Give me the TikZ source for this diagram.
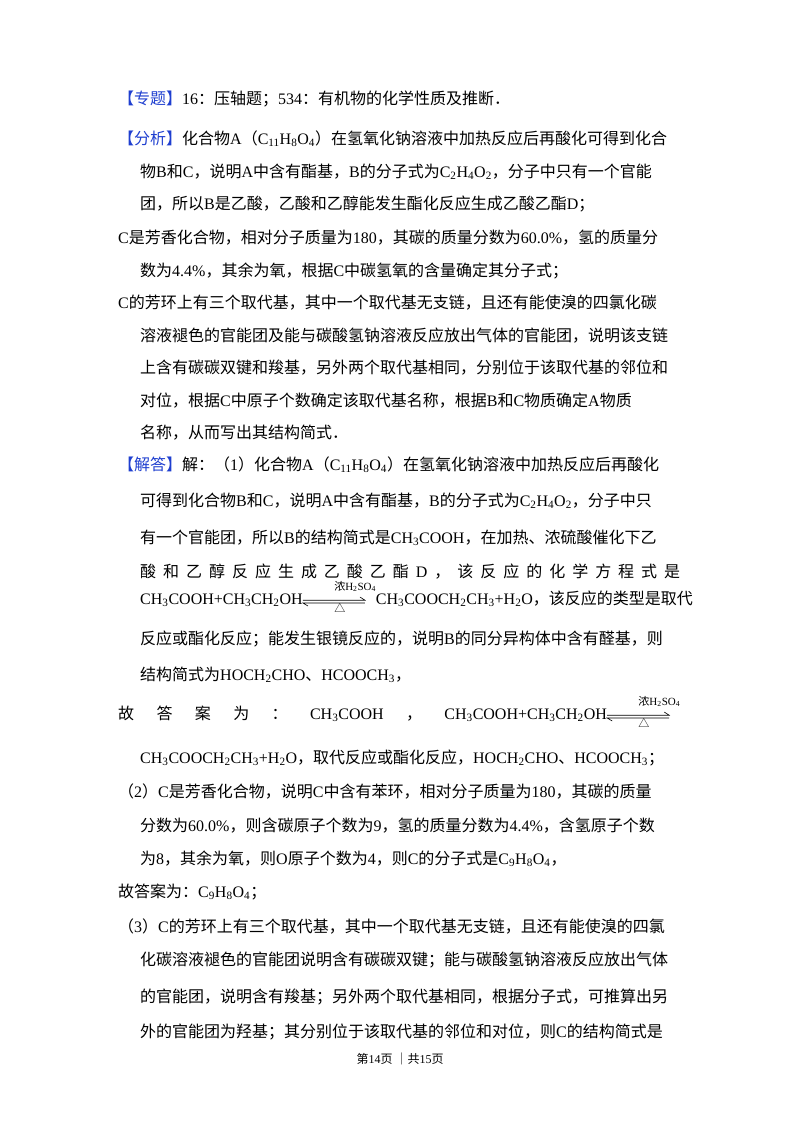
\documentclass[tikz,border=0pt]{standalone}
\usepackage{fontspec}
\setmainfont{Liberation Serif}
\newfontfamily\cjkf{Noto Sans CJK SC}
\newcommand\cjk{\cjkf}
\newcommand\lat{\rmfamily}
\XeTeXinterchartokenstate=1
\newXeTeXintercharclass\cjkclass
\newcount\cc
\cc="3000 \loop\ifnum\cc<"3040 \XeTeXcharclass\cc=\cjkclass \advance\cc by 1 \repeat
\cc="4E00 \loop\ifnum\cc<"A000 \XeTeXcharclass\cc=\cjkclass \advance\cc by 1 \repeat
\cc="FF00 \loop\ifnum\cc<"FFF0 \XeTeXcharclass\cc=\cjkclass \advance\cc by 1 \repeat
\XeTeXinterchartoks 0 \cjkclass = {\cjk}
\XeTeXinterchartoks 4095 \cjkclass = {\cjk}
\XeTeXinterchartoks \cjkclass 0 = {\lat}
\XeTeXinterchartoks \cjkclass 4095 = {\lat}
\XeTeXlinebreaklocale "zh"
\XeTeXlinebreakskip=0pt plus 30pt
\hbadness=10000
\definecolor{hd}{HTML}{1F3FD0}
\newcommand\xs[1]{\textsubscript{#1}}
\newcommand\hd[1]{\textcolor{hd}{#1}}
\newcommand\rev{\tikz[baseline=-3pt,x=1pt,y=1pt,line width=0.6pt]{%
\draw (0,0.8)--(62,0.8)--(57,4);\draw (62,-2)--(0,-2)--(5,-5);
\node[font=\fontsize{11}{11}\selectfont,inner sep=0] at (31,11) {{\cjkf 浓}H\xs{2}SO\xs{4}};
\node[font=\fontsize{11}{11}\selectfont,inner sep=0] at (31,-11) {{\cjkf △}};}}
\tikzset{ln/.style={anchor=base west,inner sep=0,font=\fontsize{16}{16}\selectfont}}
\newcommand\JLine[3]{\node[ln] at (#1,-#2) {\makebox[\dimexpr 680pt-#1pt\relax][s]{#3}};}
\newcommand\LLine[3]{\node[ln] at (#1,-#2) {#3};}
\begin{document}
\begin{tikzpicture}[x=1pt,y=1pt]
\useasboundingbox (0,0) rectangle (800,-1132);
\fill[white] (0,0) rectangle (800,-1132);
\LLine{118}{104}{\hd{【专题】}16：压轴题；534：有机物的化学性质及推断．}
\JLine{118}{144}{\hd{【分析】}化合物A（C\xs{11}H\xs{8}O\xs{4}）在氢氧化钠溶液中加热反应后再酸化可得到化合}
\JLine{140}{177}{物B和C，说明A中含有酯基，B的分子式为C\xs{2}H\xs{4}O\xs{2}，分子中只有一个官能}
\LLine{140}{209}{团，所以B是乙酸，乙酸和乙醇能发生酯化反应生成乙酸乙酯D；}
\JLine{118}{243}{C是芳香化合物，相对分子质量为180，其碳的质量分数为60.0\%，氢的质量分}
\LLine{140}{276}{数为4.4\%，其余为氧，根据C中碳氢氧的含量确定其分子式；}
\JLine{118}{308}{C的芳环上有三个取代基，其中一个取代基无支链，且还有能使溴的四氯化碳}
\JLine{140}{341}{溶液褪色的官能团及能与碳酸氢钠溶液反应放出气体的官能团，说明该支链}
\JLine{140}{373}{上含有碳碳双键和羧基，另外两个取代基相同，分别位于该取代基的邻位和}
\JLine{140}{406}{对位，根据C中原子个数确定该取代基名称，根据B和C物质确定A物质}
\LLine{140}{438}{名称，从而写出其结构简式．}
\JLine{118}{470}{\hd{【解答】}解：（1）化合物A（C\xs{11}H\xs{8}O\xs{4}）在氢氧化钠溶液中加热反应后再酸化}
\JLine{140}{506}{可得到化合物B和C，说明A中含有酯基，B的分子式为C\xs{2}H\xs{4}O\xs{2}，分子中只}
\JLine{140}{543}{有一个官能团，所以B的结构简式是CH\xs{3}COOH，在加热、浓硫酸催化下乙}
\node[ln] at (140,-577) {\makebox[540pt][s]{酸\hfill 和\hfill 乙\hfill 醇\hfill 反\hfill 应\hfill 生\hfill 成\hfill 乙\hfill 酸\hfill 乙\hfill 酯\hfill D\hfill ，\hfill 该\hfill 反\hfill 应\hfill 的\hfill 化\hfill 学\hfill 方\hfill 程\hfill 式\hfill 是}};
\node[ln] at (140,-604) {\makebox[540pt][s]{CH\xs{3}COOH+CH\xs{3}CH\xs{2}OH\rev CH\xs{3}COOCH\xs{2}CH\xs{3}+H\xs{2}O，该反应的类型是取代}};
\JLine{140}{644}{反应或酯化反应；能发生银镜反应的，说明B的同分异构体中含有醛基，则}
\LLine{140}{680}{结构简式为HOCH\xs{2}CHO、HCOOCH\xs{3}，}
\node[ln] at (118,-719) {\makebox[562pt][s]{故\hfill 答\hfill 案\hfill 为\hfill ：\hfill CH\xs{3}COOH\hfill ，\hfill CH\xs{3}COOH+CH\xs{3}CH\xs{2}OH\rev}};
\LLine{140}{763}{CH\xs{3}COOCH\xs{2}CH\xs{3}+H\xs{2}O，取代反应或酯化反应，HOCH\xs{2}CHO、HCOOCH\xs{3}；}
\JLine{118}{797}{（2）C是芳香化合物，说明C中含有苯环，相对分子质量为180，其碳的质量}
\JLine{140}{831}{分数为60.0\%，则含碳原子个数为9，氢的质量分数为4.4\%，含氢原子个数}
\LLine{140}{864}{为8，其余为氧，则O原子个数为4，则C的分子式是C\xs{9}H\xs{8}O\xs{4}，}
\LLine{118}{897}{故答案为：C\xs{9}H\xs{8}O\xs{4}；}
\JLine{118}{932}{（3）C的芳环上有三个取代基，其中一个取代基无支链，且还有能使溴的四氯}
\JLine{140}{965}{化碳溶液褪色的官能团说明含有碳碳双键；能与碳酸氢钠溶液反应放出气体}
\JLine{140}{1002}{的官能团，说明含有羧基；另外两个取代基相同，根据分子式，可推算出另}
\JLine{140}{1037}{外的官能团为羟基；其分别位于该取代基的邻位和对位，则C的结构简式是}
\node[anchor=base,inner sep=0,font=\fontsize{12}{12}\selectfont] at (400,-1063) {第14页\ ｜共15页};
\end{tikzpicture}
\end{document}
